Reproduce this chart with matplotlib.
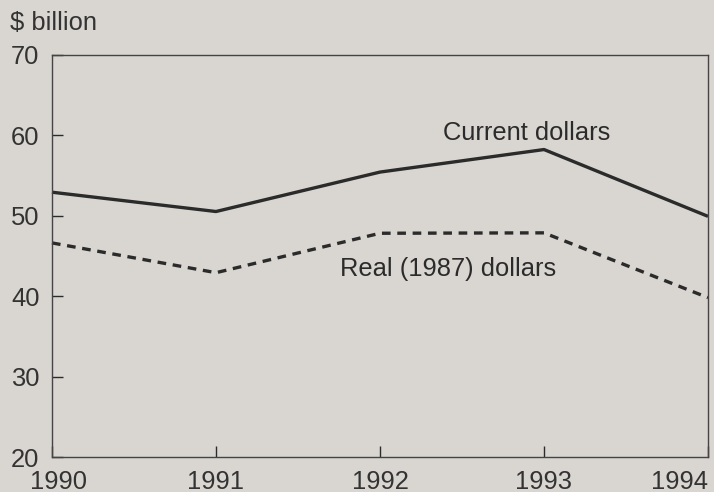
import matplotlib
matplotlib.use("Agg")
import matplotlib.pyplot as plt
import matplotlib.transforms as mtransforms

plt.rcParams["font.family"] = ["Liberation Sans", "DejaVu Sans"]

# ── data ──────────────────────────────────────────────────────────────────────
YEARS = [1990, 1991, 1992, 1993, 1994]
CURRENT = [52.9, 50.5, 55.4, 58.2, 49.9]
REAL = [46.6, 42.9, 47.8, 47.85, 39.8]
YTICKS = [20, 30, 40, 50, 60, 70]

BG = "#d9d6d1"
INK = "#2b2b2b"
FS = 18.4

fig = plt.figure(figsize=(7.14, 4.92), dpi=100, facecolor=BG)
ax = fig.add_axes([0.0728, 0.0711, 0.9188, 0.8180], facecolor=BG)

ax.plot(YEARS, CURRENT, color=INK, lw=2.4, solid_capstyle="butt", clip_on=False)
ax.plot(YEARS, REAL, color=INK, lw=2.4, ls=(0, (2.6, 2.0)), clip_on=False)

ax.text(1992.384, 60.27, "Current dollars", fontsize=FS, color=INK, va="center")
ax.text(1991.756, 43.3, "Real (1987) dollars", fontsize=FS, color=INK, va="center")

ax.set_xlim(1990, 1994)
ax.set_ylim(20, 70)
ax.set_xticks(YEARS)
ax.set_xticklabels([str(y) for y in YEARS])
ax.set_yticks(YTICKS)
ax.tick_params(axis="both", direction="in", length=8, width=1, color=INK,
               labelsize=FS, labelcolor="#333333")
ax.tick_params(axis="y", pad=9)
ax.tick_params(axis="x", pad=9)

for s in ax.spines.values():
    s.set_color("#444444")
    s.set_linewidth(1.0)

# edge year labels sit inside the frame, as in the original
labels = ax.get_xticklabels()
labels[-1].set_ha("right")
labels[0].set_transform(labels[0].get_transform() +
                        mtransforms.ScaledTranslation(7 / 100, 0, fig.dpi_scale_trans))

fig.text(10 / 714, 1 - 23 / 492, "$ billion", fontsize=FS, color="#333333",
         va="center", ha="left")

fig.savefig("out.png", dpi=100, facecolor=BG)
